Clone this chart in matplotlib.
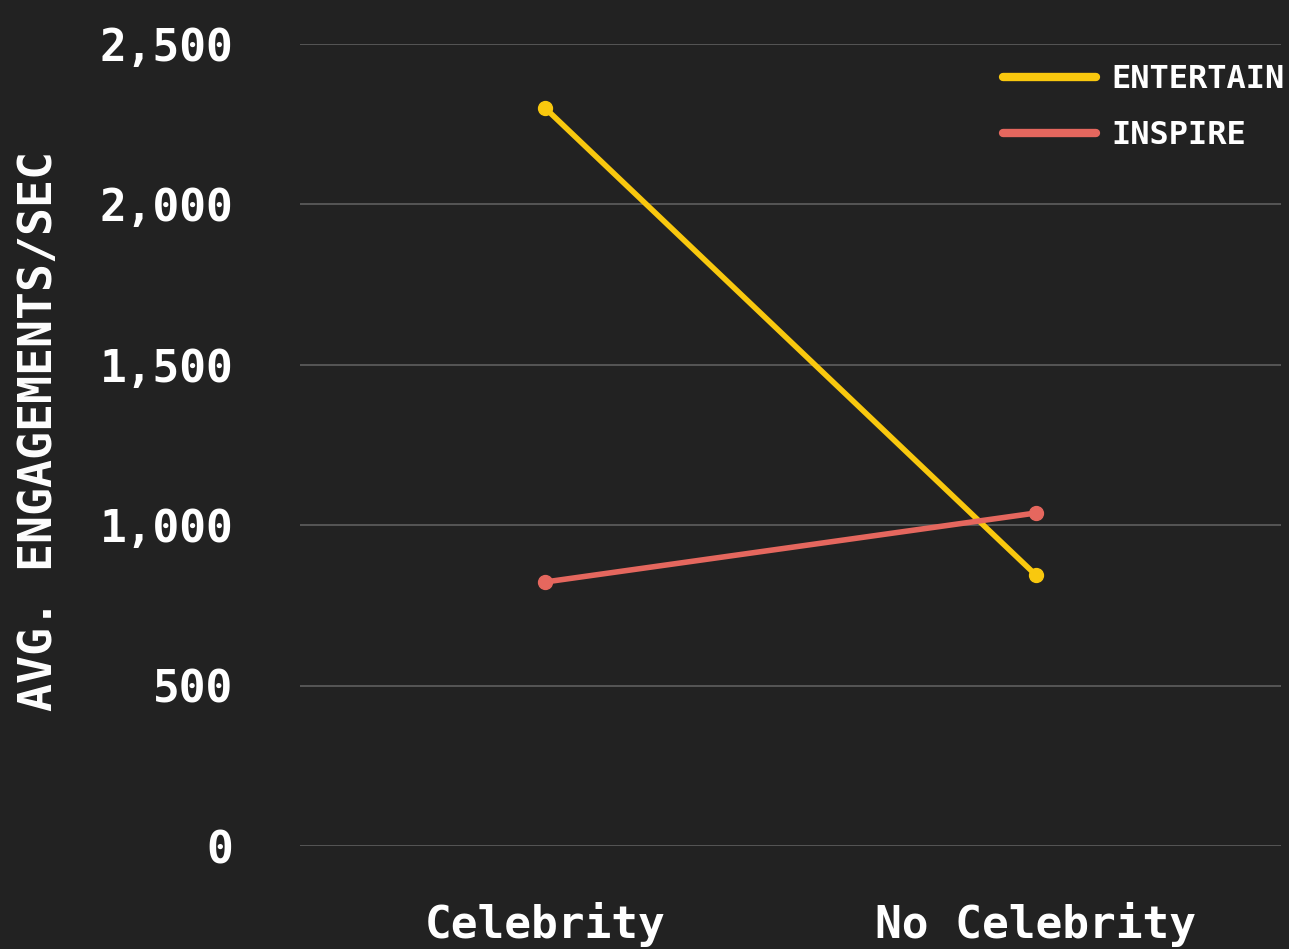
import numpy as np
import matplotlib
matplotlib.use("Agg")
import matplotlib.pyplot as plt

# data
categories = ["Celebrity", "No Celebrity"]
entertain = [2300, 845]
inspire = [823, 1038]
series_names = ["ENTERTAIN", "INSPIRE"]
y_ticks = [0, 500, 1000, 1500, 2000, 2500]

BG = "#222222"
YELLOW = "#F9C80E"
RED = "#E5675E"
GRID = "#5f5f5f"

plt.rcParams["font.family"] = ["DejaVu Sans Mono"]

fig = plt.figure(figsize=(12.89, 9.49), dpi=100, facecolor=BG)
ax = fig.add_axes([300 / 1289, 1 - 846 / 949, 981 / 1289, 802 / 949])
ax.set_facecolor(BG)

x = np.arange(len(categories))
for vals, color, name in zip([entertain, inspire], [YELLOW, RED], series_names):
    ax.plot(x, vals, color=color, linewidth=4, marker="o", markersize=10,
            solid_capstyle="round", label=name, clip_on=False, zorder=3)

ax.set_xlim(-0.5, 1.5)
ax.set_ylim(0, 2500)
ax.set_yticks(y_ticks)
ax.set_yticklabels([f"{v:,}" for v in y_ticks])
ax.set_xticks(x)
ax.set_xticklabels(categories)

ax.grid(axis="y", color=GRID, linewidth=1.2, zorder=0)
ax.set_axisbelow(True)
for s in ax.spines.values():
    s.set_visible(False)

ax.tick_params(axis="both", length=0, colors="white", labelsize=32)
ax.tick_params(axis="y", pad=48)
ax.tick_params(axis="x", pad=40)
for lbl in ax.get_xticklabels() + ax.get_yticklabels():
    lbl.set_fontweight("semibold")

ax.set_ylabel("AVG. ENGAGEMENTS/SEC", color="white", fontsize=33.5, fontweight="semibold")
ax.yaxis.set_label_coords(-0.243, 0.517)

leg = ax.legend(loc="upper left", bbox_to_anchor=(1003 / 1289, 1 - 64 / 949),
                bbox_transform=fig.transFigure, frameon=False, fontsize=23,
                handlelength=2.9, handletextpad=0.5, labelspacing=0.78,
                borderpad=0, borderaxespad=0)
for t in leg.get_texts():
    t.set_color("white")
    t.set_fontweight("semibold")
for h in leg.get_lines():
    h.set_linewidth(6)
    h.set_marker("")

fig.savefig("out.png", dpi=100, facecolor=BG)
